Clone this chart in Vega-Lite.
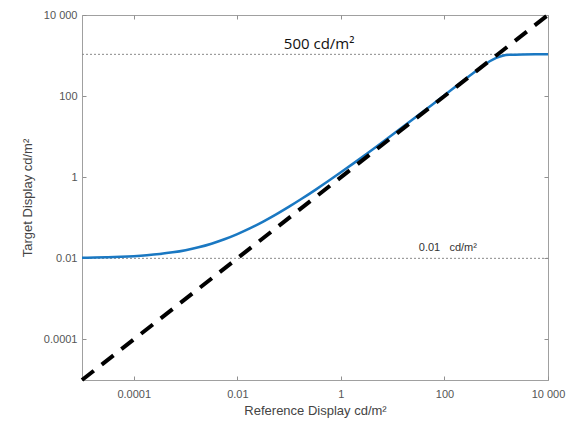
{
  "$schema": "https://vega.github.io/schema/vega-lite/v6.json",
  "width": 466,
  "height": 365,
  "autosize": {"type": "none"},
  "padding": {"left": 82, "top": 15, "right": 28, "bottom": 47},
  "background": "white",
  "config": {
    "view": {"stroke": "#a0a0a0", "strokeWidth": 1},
    "axis": {
      "labelFont": "Liberation Sans",
      "titleFont": "Liberation Sans",
      "labelFontSize": 11,
      "titleFontSize": 13,
      "labelColor": "#555555",
      "titleColor": "#444444",
      "titleFontWeight": "normal",
      "domainColor": "#a0a0a0",
      "tickColor": "#909090",
      "tickSize": -4,
      "grid": false
    }
  },
  "datasets": {
    "curve": [
      {"ref": 0.00001, "target": 0.01032},
      {"ref": 0.00001778, "target": 0.010456},
      {"ref": 0.00003162, "target": 0.01065},
      {"ref": 0.00005623, "target": 0.01093},
      {"ref": 0.0001, "target": 0.011334},
      {"ref": 0.0001778, "target": 0.011921},
      {"ref": 0.0003162, "target": 0.012778},
      {"ref": 0.0005623, "target": 0.01404},
      {"ref": 0.001, "target": 0.015913},
      {"ref": 0.001778, "target": 0.018719},
      {"ref": 0.003162, "target": 0.022965},
      {"ref": 0.005623, "target": 0.029471},
      {"ref": 0.01, "target": 0.039561},
      {"ref": 0.01778, "target": 0.055413},
      {"ref": 0.03162, "target": 0.080649},
      {"ref": 0.05623, "target": 0.121361},
      {"ref": 0.1, "target": 0.187869},
      {"ref": 0.1778, "target": 0.297818},
      {"ref": 0.3162, "target": 0.481598},
      {"ref": 0.5623, "target": 0.791801},
      {"ref": 1, "target": 1.32},
      {"ref": 1.778, "target": 2.226},
      {"ref": 3.162, "target": 3.791},
      {"ref": 5.623, "target": 6.507},
      {"ref": 10, "target": 11.244},
      {"ref": 17.78, "target": 19.536},
      {"ref": 31.62, "target": 34.095},
      {"ref": 56.23, "target": 59.72},
      {"ref": 100, "target": 104.92},
      {"ref": 177.8, "target": 184.74},
      {"ref": 316.2, "target": 325.35},
      {"ref": 562.3, "target": 564.77},
      {"ref": 749.9, "target": 723.2},
      {"ref": 1000, "target": 878},
      {"ref": 1333.5, "target": 987.3},
      {"ref": 1778, "target": 1041.1},
      {"ref": 3162, "target": 1068.7},
      {"ref": 5623, "target": 1071.7},
      {"ref": 10000, "target": 1072}
    ],
    "identity": [
      {"ref": 0.00001, "target": 0.00001},
      {"ref": 10000, "target": 10000}
    ],
    "levels": [
      {"level": 1072},
      {"level": 0.01}
    ],
    "bigLabel": [
      {"ref": 0.38, "target": 1950, "text": "500 cd/m²"}
    ],
    "smallLabel": [
      {"ref": 32, "target": 0.0135, "text": "0.01\u00a0\u00a0\u00a0cd/m²"}
    ]
  },
  "resolve": {"axis": {"x": "independent", "y": "independent"}},
  "layer": [
    {
      "data": {"name": "levels"},
      "mark": {"type": "rule", "color": "#8a8a8a", "strokeWidth": 1, "strokeDash": [2, 2]},
      "encoding": {
        "y": {"field": "level", "type": "quantitative", "scale": {"type": "log", "domain": [0.00001, 10000], "nice": false}, "axis": null}
      }
    },
    {
      "data": {"name": "curve"},
      "mark": {"type": "line", "color": "#1a78c2", "strokeWidth": 2.5, "interpolate": "monotone"},
      "encoding": {
        "x": {
          "field": "ref", "type": "quantitative",
          "scale": {"type": "log", "domain": [0.00001, 10000], "nice": false},
          "axis": {
            "orient": "bottom",
            "values": [0.0001, 0.01, 1, 100, 10000],
            "labelExpr": "datum.value >= 9999 ? '10 000' : format(datum.value, '~g')",
            "labelPadding": 12,
            "labelFlush": false,
            "title": "Reference Display cd/m²",
            "titlePadding": 5
          }
        },
        "y": {
          "field": "target", "type": "quantitative",
          "scale": {"type": "log", "domain": [0.00001, 10000], "nice": false},
          "axis": {
            "orient": "left",
            "values": [0.0001, 0.01, 1, 100, 10000],
            "labelExpr": "datum.value >= 9999 ? '10 000' : format(datum.value, '~g')",
            "labelPadding": 9,
            "labelFlush": false,
            "title": "Target Display cd/m²",
            "titlePadding": 9
          }
        }
      }
    },
    {
      "data": {"name": "identity"},
      "mark": {"type": "line", "color": "#000000", "strokeWidth": 4, "strokeDash": [15, 10]},
      "encoding": {
        "x": {
          "field": "ref", "type": "quantitative",
          "scale": {"type": "log", "domain": [0.00001, 10000], "nice": false},
          "axis": {"orient": "top", "values": [0.0001, 0.01, 1, 100, 10000], "labels": false, "title": null, "domain": false}
        },
        "y": {
          "field": "target", "type": "quantitative",
          "scale": {"type": "log", "domain": [0.00001, 10000], "nice": false},
          "axis": {"orient": "right", "values": [0.0001, 0.01, 1, 100, 10000], "labels": false, "title": null, "domain": false}
        }
      }
    },
    {
      "data": {"name": "bigLabel"},
      "mark": {"type": "text", "font": "Open Sans", "fontSize": 15, "color": "#111111", "align": "center", "baseline": "middle"},
      "encoding": {
        "x": {"field": "ref", "type": "quantitative", "scale": {"type": "log", "domain": [0.00001, 10000], "nice": false}, "axis": null},
        "y": {"field": "target", "type": "quantitative", "scale": {"type": "log", "domain": [0.00001, 10000], "nice": false}, "axis": null},
        "text": {"field": "text"}
      }
    },
    {
      "data": {"name": "smallLabel"},
      "mark": {"type": "text", "font": "Liberation Sans", "fontSize": 11, "color": "#333333", "align": "left", "baseline": "bottom"},
      "encoding": {
        "x": {"field": "ref", "type": "quantitative", "scale": {"type": "log", "domain": [0.00001, 10000], "nice": false}, "axis": null},
        "y": {"field": "target", "type": "quantitative", "scale": {"type": "log", "domain": [0.00001, 10000], "nice": false}, "axis": null},
        "text": {"field": "text"}
      }
    }
  ]
}
